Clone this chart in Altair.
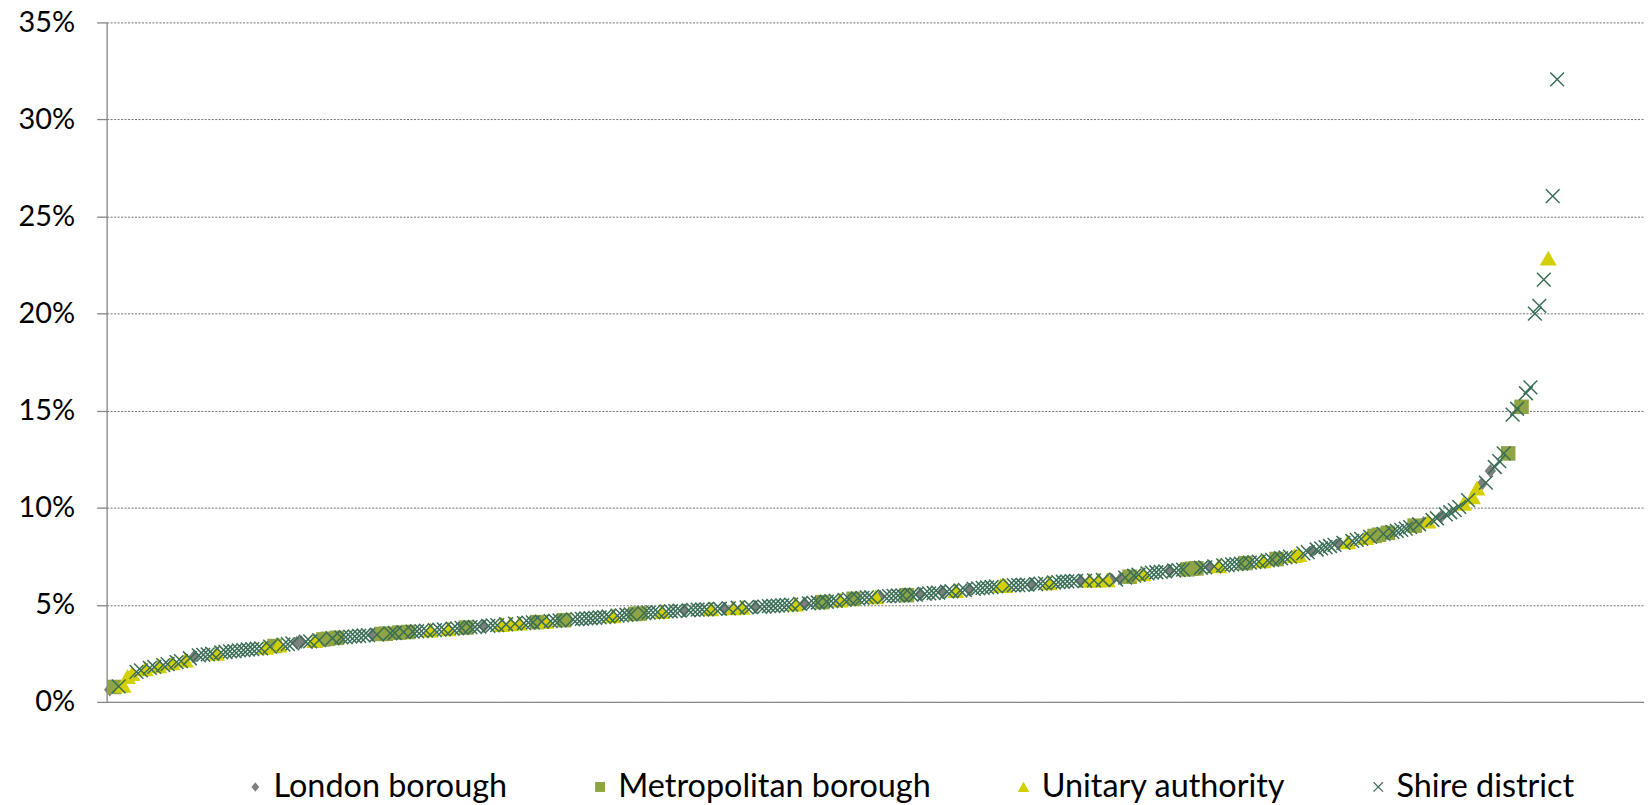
import altair as alt
import pandas as pd

# ---- data (percent values sorted ascending, rank 1..326) ----
values = [
    0.63, 0.77, 0.80, 0.85, 1.30, 1.45, 1.55, 1.62, 1.70, 1.75,
    1.80, 1.85, 1.90, 1.95, 2.00, 2.05, 2.10, 2.15, 2.25, 2.35,
    2.40, 2.42, 2.45, 2.48, 2.50, 2.55, 2.57, 2.60, 2.62, 2.65,
    2.67, 2.70, 2.72, 2.74, 2.76, 2.80, 2.85, 2.88, 2.92, 2.95,
    2.98, 3.02, 3.06, 3.08, 3.10, 3.12, 3.15, 3.18, 3.22, 3.25,
    3.28, 3.30, 3.32, 3.34, 3.36, 3.38, 3.40, 3.42, 3.44, 3.45,
    3.47, 3.50, 3.51, 3.53, 3.55, 3.57, 3.59, 3.60, 3.62, 3.64,
    3.65, 3.67, 3.69, 3.70, 3.72, 3.74, 3.75, 3.77, 3.79, 3.81,
    3.83, 3.85, 3.86, 3.88, 3.90, 3.92, 3.94, 3.96, 3.98, 4.00,
    4.01, 4.03, 4.05, 4.06, 4.08, 4.10, 4.11, 4.13, 4.14, 4.16,
    4.18, 4.20, 4.21, 4.23, 4.25, 4.26, 4.28, 4.30, 4.31, 4.33,
    4.35, 4.37, 4.40, 4.42, 4.44, 4.46, 4.49, 4.51, 4.53, 4.55,
    4.57, 4.60, 4.61, 4.63, 4.64, 4.66, 4.67, 4.68, 4.70, 4.71,
    4.72, 4.74, 4.75, 4.76, 4.77, 4.78, 4.79, 4.80, 4.81, 4.82,
    4.84, 4.85, 4.86, 4.87, 4.88, 4.89, 4.90, 4.91, 4.93, 4.94,
    4.96, 4.97, 4.99, 5.01, 5.03, 5.05, 5.06, 5.08, 5.10, 5.12,
    5.14, 5.16, 5.19, 5.21, 5.24, 5.26, 5.29, 5.31, 5.33, 5.36,
    5.38, 5.39, 5.41, 5.42, 5.44, 5.45, 5.46, 5.48, 5.49, 5.50,
    5.52, 5.53, 5.55, 5.57, 5.59, 5.61, 5.63, 5.66, 5.68, 5.70,
    5.72, 5.74, 5.77, 5.79, 5.82, 5.85, 5.87, 5.90, 5.92, 5.95,
    5.98, 5.99, 6.00, 6.01, 6.02, 6.03, 6.04, 6.05, 6.07, 6.09,
    6.11, 6.13, 6.15, 6.17, 6.19, 6.21, 6.22, 6.23, 6.23, 6.24,
    6.25, 6.26, 6.27, 6.28, 6.28, 6.29, 6.30, 6.35, 6.40, 6.45,
    6.50, 6.55, 6.59, 6.62, 6.66, 6.68, 6.70, 6.72, 6.75, 6.77,
    6.79, 6.81, 6.83, 6.86, 6.88, 6.91, 6.93, 6.95, 6.98, 7.00,
    7.03, 7.05, 7.08, 7.10, 7.12, 7.15, 7.17, 7.20, 7.23, 7.26,
    7.29, 7.32, 7.36, 7.40, 7.44, 7.48, 7.53, 7.58, 7.65, 7.72,
    7.78, 7.85, 7.91, 7.97, 8.03, 8.09, 8.14, 8.19, 8.24, 8.29,
    8.35, 8.40, 8.45, 8.50, 8.55, 8.61, 8.66, 8.71, 8.76, 8.81,
    8.86, 8.93, 9.00, 9.08, 9.15, 9.22, 9.30, 9.37, 9.46, 9.56,
    9.66, 9.77, 9.88, 10.05, 10.22, 10.39, 10.56, 11.00, 11.20, 11.30,
    11.90, 12.10, 12.40, 12.80, 12.80, 14.80, 15.10, 15.20, 15.90, 16.20,
    20.00, 20.40, 21.75, 22.85, 26.05, 32.07,
]

# category code for each rank: L London, M Metropolitan, U Unitary, S Shire
type_codes = (
    "LMSUUUSSUS" "SUSSUSSUSL" "SSSSUSSSSS" "SSSSSUSMUS" "SSLLSSUSMM"
    "SMSSSSSSSL" "SMMSSMSMSS" "SSUSSSUSSS" "MSSSLSSSUS" "USUSSSMSUS"
    "SSMLSSSSSS" "SSSUSSSSMM" "SSSSUSSSSL" "SSSSSUSSLS" "USUSSLSSSS"
    "SSSSUSLSSS" "MSSSUSSMSS" "SSULSSSSSM" "SSLSSSSLSS" "USSLSSSSSS"
    "UUSSSSSLSS" "SUSSSSSSLS" "USUSULSLSM" "SSUSSSSSLS" "SSMMMSSLSU"
    "SSSSSMSSSU" "SSMSSSUUSS" "LSSSSSLSUS" "SSUSMMSMSS" "SSSMSLUSSL"
    "SSSSUSUULS" "LSSSMSSMSS" "SSSUSS"
)

code_names = {
    "L": "London borough",
    "M": "Metropolitan borough",
    "U": "Unitary authority",
    "S": "Shire district",
}
categories = ["London borough", "Metropolitan borough", "Unitary authority", "Shire district"]
y_ticks = [0, 5, 10, 15, 20, 25, 30, 35]

df = pd.DataFrame({
    "rank": list(range(1, len(values) + 1)),
    "value": values,
    "type": [code_names[c] for c in type_codes[: len(values)]],
})
df["order"] = df["type"].map({c: i for i, c in enumerate(categories)})
df = df.sort_values(["order", "rank"]).reset_index(drop=True)

# marker outlines (unit shapes, scaled by the mark size)
DIAMOND = "M0,-0.9L0.75,0L0,0.9L-0.75,0Z"
SQUARE = "M-0.95,-0.95L0.95,-0.95L0.95,0.95L-0.95,0.95Z"
TRIANGLE = "M0,-1L1.1,0.95L-1.1,0.95Z"
CROSS = "M-0.9,-0.9L0.9,0.9M-0.9,0.9L0.9,-0.9"

FONT = "Lato"

chart = alt.Chart(df).mark_point(opacity=1, strokeWidth=1.5, size=235).encode(
    x=alt.X("rank:Q", scale=alt.Scale(domain=[0.3, 345.5], nice=False, zero=False),
            axis=alt.Axis(title=None, labels=False, ticks=False, grid=False,
                          domainColor="#868686", domainWidth=1.3)),
    y=alt.Y("value:Q", scale=alt.Scale(domain=[0, 35], nice=False),
            axis=alt.Axis(title=None, values=y_ticks, labelExpr="datum.value + '%'",
                          grid=True, gridColor="#707070", gridDash=[2, 1.5], gridWidth=1,
                          domainColor="#868686", domainWidth=1.3,
                          tickColor="#868686", tickSize=10, tickWidth=1.3,
                          labelPadding=22, labelFont=FONT, labelFontSize=29,
                          labelColor="#000000")),
    shape=alt.Shape("type:N", scale=alt.Scale(domain=categories,
                    range=[DIAMOND, SQUARE, TRIANGLE, CROSS]),
                    legend=alt.Legend(title=None)),
    fill=alt.Fill("type:N", scale=alt.Scale(domain=categories,
                  range=["#7f7f7f", "#8fa443", "#d4d000", "transparent"]),
                  legend=alt.Legend(title=None)),
    stroke=alt.Stroke("type:N", scale=alt.Scale(domain=categories,
                      range=["transparent", "transparent", "transparent", "#3b6e56"]),
                      legend=alt.Legend(title=None)),
).properties(
    width=1543,
    height=682,
    autosize=alt.AutoSizeParams(type="none"),
    padding={"left": 99, "top": 13, "right": 0, "bottom": 102},
).configure_legend(
    orient="none",
    legendX=133,
    legendY=751,
    direction="horizontal",
    columnPadding=76,
    symbolSize=110,
    symbolStrokeWidth=1.2,
    labelFont=FONT,
    labelFontSize=32.5,
    labelColor="#000000",
    labelOffset=2,
    labelLimit=600,
).configure_view(stroke=None)

chart.save("out.html", embed_options={"renderer": "svg", "actions": False})
